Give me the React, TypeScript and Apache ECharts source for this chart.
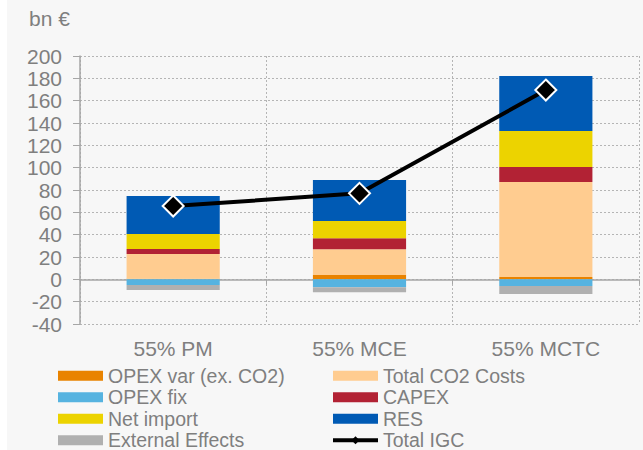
import React, { useEffect, useRef } from "react";
import * as echarts from "echarts";

const categories = ["55% PM", "55% MCE", "55% MCTC"];
const opexVar = [0.5, 3.8, 2.1];
const co2Costs = [22.1, 23.1, 85];
const capex = [4.5, 9.8, 13.4];
const netImport = [13.5, 15.5, 32.3];
const res = [34, 36.7, 49.2];
const opexFix = [-5.1, -7.2, -6];
const externalEffects = [-4.5, -4.4, -7.2];
const totalIGC = [65.6, 77, 169.5];
const yTicks = { min: -40, max: 200, interval: 20 };

const FONT = "'Liberation Sans', Arial, sans-serif";
const TXT = "#7f7f7f";
const H = 500;

export default function App() {
  const ref = useRef<HTMLDivElement>(null);
  useEffect(() => {
    if (!ref.current) return;
    const chart = echarts.init(ref.current, null, { renderer: "svg" });
    const bar = (name: string, data: number[], color: string) => ({
      name,
      type: "bar",
      stack: "igc",
      data,
      barWidth: "50%",
      xAxisIndex: 0,
      itemStyle: { color },
    });
    const legendCommon = {
      orient: "vertical",
      top: 365,
      padding: 0,
      itemWidth: 45,
      itemHeight: 10,
      itemGap: 0,
      textStyle: { fontSize: 19.5, color: TXT, lineHeight: 21.5, fontFamily: FONT },
    };
    chart.setOption({
      animation: false,
      backgroundColor: "#f7f7f7",
      textStyle: { fontFamily: FONT },
      title: {
        text: "bn €",
        left: 29,
        top: 8,
        padding: 0,
        textStyle: { fontSize: 21, color: TXT, fontWeight: "normal", fontFamily: FONT },
      },
      graphic: [
        { type: "rect", left: 0, top: 0, shape: { width: 7, height: H }, style: { fill: "#ffffff" }, z: -1 },
      ],
      grid: { left: 80, right: 4, top: 56, bottom: H - 324, containLabel: false },
      xAxis: [
        {
          type: "category",
          data: categories,
          position: "bottom",
          axisLine: { show: false, onZero: false },
          axisTick: { show: false },
          axisLabel: { fontSize: 21, color: TXT, margin: 14, fontFamily: FONT },
          splitLine: { show: true, lineStyle: { type: [2, 2], color: "#b5b5b5", width: 1 } },
        },
        {
          type: "category",
          data: categories,
          position: "bottom",
          axisLine: { show: true, onZero: true, lineStyle: { color: "#a6a6a6", width: 1.5 } },
          axisTick: { show: true, length: 5, lineStyle: { color: "#a6a6a6" } },
          axisLabel: { show: false },
          splitLine: { show: false },
        },
      ],
      yAxis: {
        type: "value",
        min: yTicks.min,
        max: yTicks.max,
        interval: yTicks.interval,
        axisLine: { show: true, lineStyle: { color: "#a6a6a6", width: 1.5 } },
        axisTick: { show: true, length: 7, lineStyle: { color: "#a6a6a6" } },
        axisLabel: { fontSize: 21, color: TXT, margin: 18, fontFamily: FONT },
        splitLine: { show: true, lineStyle: { type: [2, 2], color: "#b5b5b5", width: 1 } },
      },
      legend: [
        {
          ...legendCommon,
          left: 58,
          icon: "rect",
          data: ["OPEX var (ex. CO2)", "OPEX fix", "Net import", "External Effects"],
        },
        {
          ...legendCommon,
          left: 331,
          data: [
            { name: "Total CO2 Costs", icon: "rect" },
            { name: "CAPEX", icon: "rect" },
            { name: "RES", icon: "rect" },
            {
              name: "Total IGC",
              itemStyle: { borderWidth: 0, color: "#000" },
              lineStyle: { width: 4, color: "#000" },
            },
          ],
        },
      ],
      series: [
        bar("OPEX var (ex. CO2)", opexVar, "#e98300"),
        bar("Total CO2 Costs", co2Costs, "#ffcc90"),
        bar("CAPEX", capex, "#b22234"),
        bar("Net import", netImport, "#ecd300"),
        bar("RES", res, "#005ab4"),
        bar("OPEX fix", opexFix, "#56b3e0"),
        bar("External Effects", externalEffects, "#b0b0b0"),
        {
          name: "Total IGC",
          type: "line",
          data: totalIGC,
          xAxisIndex: 0,
          symbol: "diamond",
          symbolSize: 21,
          lineStyle: { color: "#000", width: 4 },
          itemStyle: { color: "#000", borderColor: "#fff", borderWidth: 2 },
          z: 5,
        },
      ],
    });
    return () => chart.dispose();
  }, []);
  return (
    <div style={{ position: "fixed", left: 0, top: 0, width: 643, height: 450, overflow: "hidden" }}>
      <div ref={ref} style={{ width: 643, height: H }} />
    </div>
  );
}
